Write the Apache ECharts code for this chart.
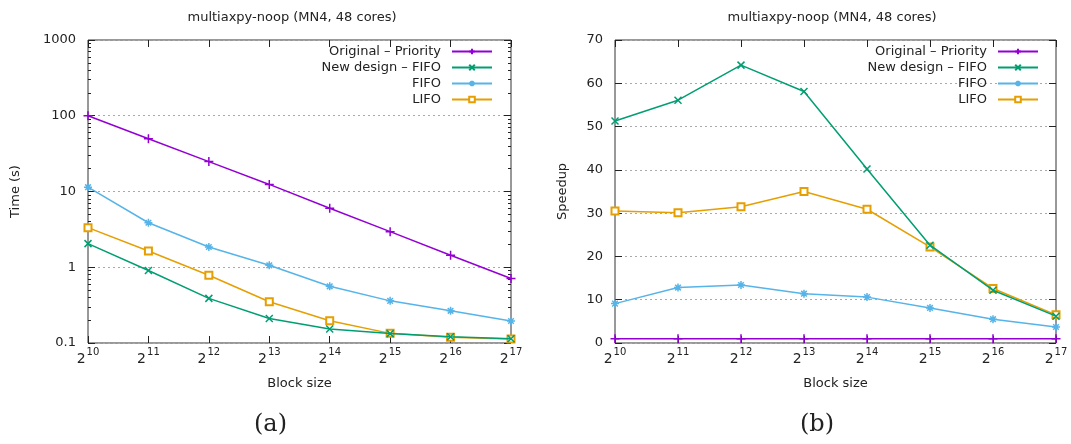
<!DOCTYPE html>
<html><head><meta charset="utf-8">
<script src="https://cdn.jsdelivr.net/npm/echarts@6/dist/echarts.min.js"></script>
<style>html,body{margin:0;padding:0;background:#fff}#c{width:1071px;height:444px}</style>
</head><body><div id="c"></div>
<script>
// ---- data ----
var blockExp = [10, 11, 12, 13, 14, 15, 16, 17];
var seriesNames = ['Original – Priority', 'New design – FIFO', 'FIFO', 'LIFO'];
// (a) time in seconds
var timePriority = [100, 49.8, 24.8, 12.4, 6.0, 2.95, 1.44, 0.71];
var timeNewFifo  = [2.05, 0.905, 0.388, 0.211, 0.153, 0.133, 0.121, 0.114];
var timeFifo     = [11.4, 3.87, 1.85, 1.06, 0.56, 0.36, 0.266, 0.195];
var timeLifo     = [3.33, 1.64, 0.785, 0.35, 0.197, 0.134, 0.119, 0.113];
// (b) speedup
var speedPriority = [1, 1, 1, 1, 1, 1, 1, 1];
var speedNewFifo  = [51.3, 56.1, 64.2, 58.1, 40.2, 22.6, 12.2, 6.2];
var speedFifo     = [9.1, 12.8, 13.4, 11.4, 10.6, 8.1, 5.5, 3.7];
var speedLifo     = [30.5, 30.1, 31.5, 35.0, 30.9, 22.2, 12.6, 6.5];
// tick labels
var timeTicks = [0.1, 1, 10, 100, 1000];
var speedTicks = [0, 10, 20, 30, 40, 50, 60, 70];

var colors = ['#9400d3', '#009e73', '#56b4e9', '#e69f00'];
var symbols = [
  'path://M0,5L10,5M5,0L5,10',
  'path://M1,1L9,9M1,9L9,1',
  'path://M0,5L10,5M5,0L5,10M1.5,1.5L8.5,8.5M1.5,8.5L8.5,1.5',
  'emptyRect'
];
var symSizes = [9, 7, 8, 7];
var FONT = 'DejaVu Sans';
var AX = '#222';

var minorVals = [];
for (var d = -1; d < 3; d++) for (var k = 2; k <= 9; k++) minorVals.push(d + Math.log10(k));

var chart = echarts.init(document.getElementById('c'), null, {renderer: 'canvas'});

function xLabel(v) { return '{b|2}{s|' + v + '}'; }
var xRich = {
  b: {fontFamily: FONT, fontSize: 14, color: '#222', padding: [5, 1, 0, 0]},
  s: {fontFamily: FONT, fontSize: 10, color: '#222', verticalAlign: 'top'}
};
var majorTick = {show: true, inside: true, length: 7, interval: 0, lineStyle: {color: AX, width: 1}};

function xAxes(gi) {
  return [{
    type: 'category', gridIndex: gi, position: 'bottom', data: blockExp, boundaryGap: false,
    axisLine: {show: false, onZero: false},
    axisTick: majorTick,
    axisLabel: {formatter: xLabel, rich: xRich, margin: 4, interval: 0},
    name: 'Block size', nameLocation: 'middle', nameGap: 34,
    nameTextStyle: {fontFamily: FONT, fontSize: 13, color: '#222'}
  }, {
    type: 'category', gridIndex: gi, position: 'top', data: blockExp, boundaryGap: false,
    axisLine: {show: false, onZero: false},
    axisTick: majorTick,
    axisLabel: {show: false}
  }];
}

var tickLabelStyle = {fontFamily: FONT, fontSize: 13, color: '#222'};
var titleStyle = {fontFamily: FONT, fontSize: 13, fontWeight: 'normal', color: '#222'};

var option = {
  animation: false,
  color: colors,
  title: [
    {text: 'multiaxpy-noop (MN4, 48 cores)', left: 287, top: 6, textAlign: 'center', textStyle: titleStyle},
    {text: 'multiaxpy-noop (MN4, 48 cores)', left: 827, top: 6, textAlign: 'center', textStyle: titleStyle}
  ],
  grid: [
    {left: 88, right: 560, top: 40, bottom: 101, show: true, borderColor: '#333', borderWidth: 1, backgroundColor: 'transparent'},
    {left: 615, right: 15, top: 40, bottom: 101, show: true, borderColor: '#333', borderWidth: 1, backgroundColor: 'transparent'}
  ],
  legend: [0, 1].map(function (i) {
    return {
      orient: 'vertical', right: i === 0 ? 573 : 27, top: 39, align: 'right',
      itemWidth: 40, itemHeight: 7, itemGap: 1,
      data: seriesNames,
      textStyle: {fontFamily: FONT, fontSize: 13, color: '#222', lineHeight: 15, padding: [0, 6, 0, 0]},
      selectedMode: false
    };
  }),
  xAxis: xAxes(0).concat(xAxes(1)),
  yAxis: [
    {type: 'log', logBase: 10, gridIndex: 0, position: 'left', min: 0.1, max: 1000,
     axisLine: {show: false, onZero: false},
     axisTick: majorTick,
     axisLabel: Object.assign({margin: 12, formatter: function (v) { return String(v); }}, tickLabelStyle),
     splitLine: {show: true, lineStyle: {color: '#aaa', type: [2, 3], width: 1}},
     name: 'Time (s)', nameLocation: 'middle', nameGap: 66,
     nameTextStyle: {fontFamily: FONT, fontSize: 13, color: '#222'}},
    {type: 'value', gridIndex: 0, position: 'left', min: -1, max: 3, interval: 1,
     axisLine: {show: false, onZero: false}, splitLine: {show: false},
     axisTick: {show: true, inside: true, length: 3, lineStyle: {color: AX}, customValues: minorVals},
     axisLabel: {show: false}},
    {type: 'log', logBase: 10, gridIndex: 0, position: 'right', min: 0.1, max: 1000,
     axisLine: {show: false, onZero: false}, splitLine: {show: false},
     axisTick: majorTick,
     axisLabel: {show: false}},
    {type: 'value', gridIndex: 0, position: 'right', min: -1, max: 3, interval: 1,
     axisLine: {show: false, onZero: false}, splitLine: {show: false},
     axisTick: {show: true, inside: true, length: 3, lineStyle: {color: AX}, customValues: minorVals},
     axisLabel: {show: false}},
    {type: 'value', gridIndex: 1, position: 'left', min: 0, max: 70, interval: 10,
     axisLine: {show: false, onZero: false},
     axisTick: majorTick,
     axisLabel: Object.assign({margin: 12}, tickLabelStyle),
     splitLine: {show: true, lineStyle: {color: '#aaa', type: [2, 3], width: 1}},
     name: 'Speedup', nameLocation: 'middle', nameGap: 46,
     nameTextStyle: {fontFamily: FONT, fontSize: 13, color: '#222'}},
    {type: 'value', gridIndex: 1, position: 'right', min: 0, max: 70, interval: 10,
     axisLine: {show: false, onZero: false}, splitLine: {show: false},
     axisTick: majorTick,
     axisLabel: {show: false}}
  ],
  graphic: [
    {type: 'text', left: 254, top: 413, style: {text: '(a)', font: '24px "DejaVu Serif"', fill: '#222'}},
    {type: 'text', left: 800, top: 413, style: {text: '(b)', font: '24px "DejaVu Serif"', fill: '#222'}}
  ],
  series: []
};

var timeData = [timePriority, timeNewFifo, timeFifo, timeLifo];
var speedData = [speedPriority, speedNewFifo, speedFifo, speedLifo];
function mk(i, data, xi, yi) {
  return {
    type: 'line', name: seriesNames[i], data: data, xAxisIndex: xi, yAxisIndex: yi,
    symbol: symbols[i], symbolSize: symSizes[i], showAllSymbol: true,
    lineStyle: {color: colors[i], width: 1.5},
    itemStyle: {color: colors[i], borderColor: colors[i], borderWidth: 1.5},
    z: 2 + (i === 1 ? 1 : 0)
  };
}
for (var i = 0; i < 4; i++) option.series.push(mk(i, timeData[i], 0, 0));
for (var j = 0; j < 4; j++) option.series.push(mk(j, speedData[j], 2, 4));
chart.setOption(option);
</script></body></html>
